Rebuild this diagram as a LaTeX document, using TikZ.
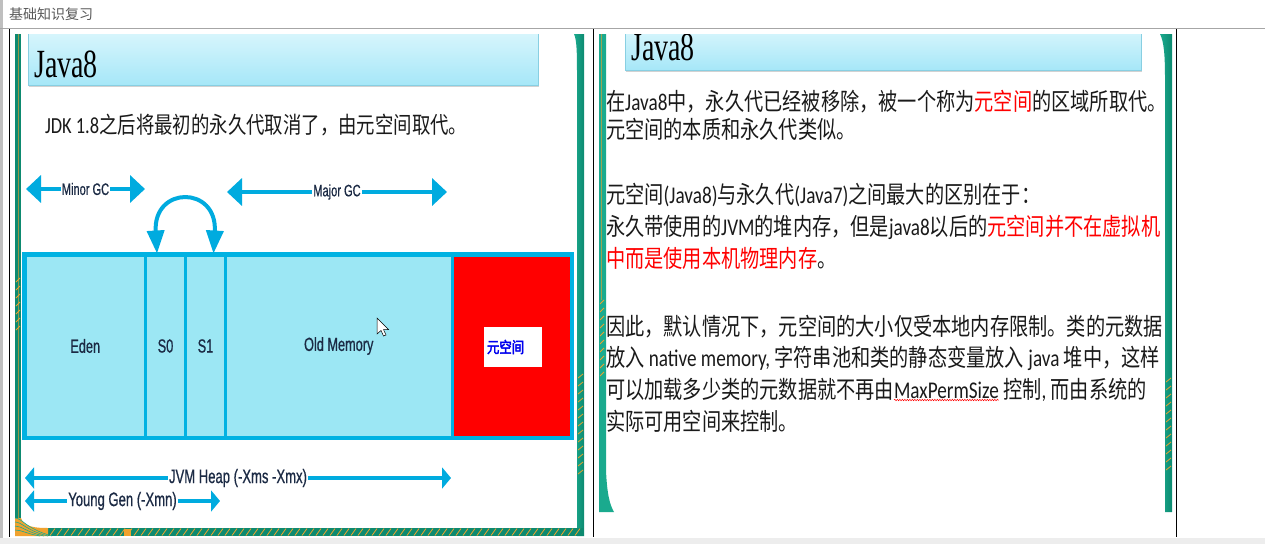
\documentclass[tikz,border=0pt]{standalone}
\usepackage{fontspec}
\usetikzlibrary{arrows.meta,shadows,decorations.pathmorphing}
\newfontfamily\cjk{Noto Sans CJK SC}[FakeStretch=0.80]
\newfontfamily\cjkbf{Noto Sans CJK SC}[FakeStretch=0.8,FakeBold=2.5]
\newfontfamily\lat{Carlito}[FakeStretch=0.80]
\newfontfamily\arn{Liberation Sans}[FakeStretch=0.67,FakeBold=0.6]
\newfontfamily\ttl{Liberation Serif}[FakeStretch=0.7]
\newfontfamily\hdr{Noto Sans CJK SC}
\definecolor{gcb}{HTML}{00ABDF}
\definecolor{barfill}{HTML}{9CE7F4}
\definecolor{barline}{HTML}{00B2E2}
\definecolor{tealA}{HTML}{1AAA8E}
\definecolor{tealB}{HTML}{0D8A70}
\definecolor{orng}{HTML}{F0A22E}
\definecolor{lbl}{HTML}{1B2A44}
\definecolor{ttop}{HTML}{E3F9FD}
\definecolor{tbot}{HTML}{A6E7F8}
\definecolor{tline}{HTML}{88CFE2}
\definecolor{txt}{HTML}{1A1A1A}
\definecolor{metab}{HTML}{0000EE}
\begin{document}
\begin{tikzpicture}[x=1pt,y=-1pt,
  cell/.style={draw=barline, line width=3pt, fill=barfill, minimum height=182pt, inner sep=0pt,
    font=\arn\fontsize{19}{19}\selectfont, text=lbl},
  gc/.style={draw=gcb, line width=4pt},
  bigtip/.style={{Triangle[length=15pt,width=27pt]}-{Triangle[length=15pt,width=27pt]}},
  smalltip/.style={{Triangle[length=9pt,width=21pt]}-{Triangle[length=9pt,width=21pt]}},
  lblf/.style={fill=white, inner xsep=1pt, inner ysep=1pt, font=\arn\fontsize{16.5}{16.5}\selectfont, text=lbl},
  lblh/.style={fill=white, inner xsep=1pt, inner ysep=1pt, font=\arn\fontsize{19.5}{19.5}\selectfont, text=lbl},
  body/.style={anchor=base west, inner sep=0pt, outer sep=0pt, font=\cjk\fontsize{24}{24}\selectfont, text=txt},
  titlebox/.style={draw=tline, line width=0.6pt, top color=ttop, bottom color=tbot,
    drop shadow={opacity=0.35, shadow xshift=1pt, shadow yshift=-2pt}, inner sep=0pt},
  titletext/.style={anchor=base west, inner sep=0pt, font=\ttl\fontsize{40}{40}\selectfont, text=black}]
\useasboundingbox (0,0) rectangle (1265,544);
\fill[white] (0,0) rectangle (1265,544);
% window frame and header
\fill[black!25] (0,0) rectangle (2.5,544);
\draw[black!35, line width=0.8pt] (0,28.5) -- (1265,28.5);
\node[anchor=west, inner sep=0pt, font=\hdr\fontsize{14}{14}\selectfont, text=black!65] (hdr) at (9,14) {基础知识复习};
\fill[black!7] (0,538) rectangle (1265,544);
% table lines
\draw[black, line width=1pt] (9.5,29) -- (9.5,537);
\draw[black, line width=1pt] (593.5,29) -- (593.5,537);
\draw[black, line width=1pt] (1176.5,29) -- (1176.5,537);

% ---------- left slide frame ----------
\fill[tealB] (15,34) rectangle (21,528);
\draw[orng, line width=0.5pt, opacity=0.6] (18,34) -- (18,518);
\foreach \y in {282,290,...,330} \draw[orng, line width=0.8pt] (16,\y) -- (20,\y-4);
\shade[left color=tealA, right color=tealB] (574,34) .. controls (577,40) and (577,55) .. (577,80) -- (577,536) -- (584,536) -- (584,34) -- cycle;
\foreach \y in {378,386,...,474} \draw[orng, line width=0.8pt] (578,\y) -- (583,\y-4);
\fill[tealB] (15,528) rectangle (584,536);
\fill[orng] (15,518) -- (21,518) .. controls (24,527) and (35,528) .. (48,528) -- (48,536) -- (15,536) -- cycle;
\foreach \r in {6,10,14,18} \draw[tealA, line width=0.6pt] (15,536-\r) .. controls (22,536-\r) and (26,536-\r*0.4) .. (34+\r,536);
\foreach \x in {50,57,...,575} \draw[orng, line width=0.8pt] (\x,535.5) -- (\x+5,528.5);
\fill[orng] (124,528.5) rectangle (131,535.5);

% ---------- right slide frame ----------
\fill[tealA] (599,34) -- (606,34) -- (606,470) .. controls (607,495) and (610,505) .. (614,512) -- (599,512) -- cycle;
\draw[orng, line width=0.5pt, opacity=0.6] (601,34) -- (601,300);
\foreach \y in {304,312,...,376} \draw[orng, line width=0.8pt] (600,\y) -- (604,\y-4);
\shade[left color=tealA, right color=tealB] (1160,34) .. controls (1164,42) and (1165,55) .. (1165,80) -- (1165,512) -- (1172,512) -- (1172,34) -- cycle;
\foreach \y in {382,390,...,470} \draw[orng, line width=0.8pt] (1166,\y) -- (1171,\y-4);

% ---------- title boxes ----------
\begin{scope}
\clip (15,34) rectangle (585,537);
\node[titlebox, minimum width=510pt, minimum height=65pt] (tb1) at (283,52.5) {};
\node[titletext] (tt1) at (34,77) {Java8};
\end{scope}
\begin{scope}
\clip (599,34) rectangle (1172,512);
\node[titlebox, minimum width=516pt, minimum height=50pt] (tb2) at (883,45) {};
\node[titletext] (tt2) at (631,60) {Java8};
\end{scope}

% ---------- left slide content ----------
\node[body, font=\cjk\fontsize{23}{23}\selectfont] (jdk) at (45,133) {{\lat JDK 1.8}之后将最初的永久代取消了，由元空间取代。};

\node[cell, minimum width=120.5pt] (eden) at (85.25,346) {Eden};
\node[cell, minimum width=40pt] (s0) at (165.5,346) {S0};
\node[cell, minimum width=40pt] (s1) at (205.5,346) {S1};
\node[cell, minimum width=226.5pt] (old) at (338.75,346) {Old Memory};
\node[cell, minimum width=119pt, fill=red] (meta) at (511.5,346) {};
\draw[barline, line width=3.5pt] (eden.north west) rectangle (meta.south east);
\node[fill=white, minimum height=40pt, text width=52pt, inner xsep=3pt, inner ysep=0pt, align=left,
  font=\cjkbf\fontsize{15.5}{15.5}\selectfont, text=metab] (mbox) at (513,347) {元空间};

% cursor
\draw[black, fill=white, line width=0.5pt, shift={(377,318)}] (0,0) -- (0,16) -- (4,12.5) -- (6.5,18) -- (9,17) -- (6.5,11.5) -- (11.5,11.5) -- cycle;

% GC arrows
\coordinate (mnL) at (26,189);
\coordinate (mnR) at (145,189);
\coordinate (mjL) at (227,192);
\coordinate (mjR) at (447,192);
\draw[gc, bigtip] (mnL) -- (mnR) node[midway, lblf] (mnlab) {Minor GC};
\draw[gc, bigtip] (mjL) -- (mjR) node[midway, lblf] (mjlab) {Major GC};
\draw[gc, {Triangle[length=23pt,width=17pt]}-{Triangle[length=23pt,width=17pt]}]
  ([xshift=-8.5pt]s0.north) .. controls +(-4,-68) and +(4,-68) .. ([xshift=8pt]s1.north);

% heap arrows
\coordinate (hpL) at (25,478);
\coordinate (hpR) at (451,478);
\coordinate (ygL) at (25,501);
\coordinate (ygR) at (220,501);
\draw[gc, smalltip] (hpL) -- (hpR) node[midway, lblh] (hplab) {JVM Heap (-Xms -Xmx)};
\draw[gc, smalltip] (ygL) -- (ygR) node[midway, lblh] (yglab) {Young Gen (-Xmn)};

% ---------- right slide content ----------
\node[body] (r1) at (606,110) {在{\lat Java8}中，永久代已经被移除，被一个称为\textcolor{red}{元空间}的区域所取代。};
\node[body] (r2) at (606,138) {元空间的本质和永久代类似。};
\node[body] (r3) at (606,203) {元空间{\lat (Java8)}与永久代{\lat (Java7)}之间最大的区别在于：};
\node[body] (r4) at (606,235) {永久带使用的{\lat JVM}的堆内存，但是{\lat java8}以后的\textcolor{red}{元空间并不在虚拟机}};
\node[body] (r5) at (606,267) {\textcolor{red}{中而是使用本机物理内存}。};
\node[body] (r6) at (606,335) {因此，默认情况下，元空间的大小仅受本地内存限制。类的元数据};
\node[body] (r7) at (606,366) {放入{\lat\ native memory, }字符串池和类的静态变量放入{\lat\ java }堆中，这样};
\node[body] (r8a) at (606,398) {可以加载多少类的元数据就不再由};
\node[body] (r8b) at (r8a.base east) {{\lat MaxPermSize}};
\node[body] (r8c) at (r8b.base east) {{\lat\ }控制{\lat , }而由系统的};
\draw[red, line width=0.5pt, decorate, decoration={snake, amplitude=0.7pt, segment length=2.5pt}]
  ([yshift=-2pt]r8b.base west) -- ([yshift=-2pt]r8b.base east);
\node[body] (r9) at (606,430) {实际可用空间来控制。};
\end{tikzpicture}
\end{document}
